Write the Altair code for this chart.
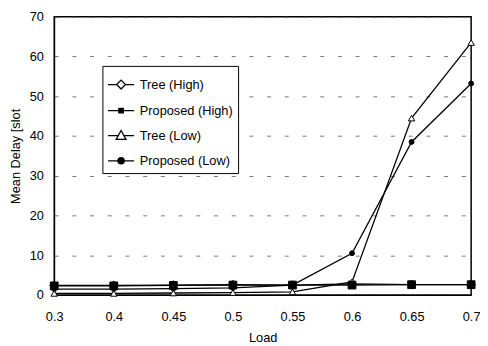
import altair as alt
import pandas as pd

loads = ["0.3", "0.4", "0.45", "0.5", "0.55", "0.6", "0.65", "0.7"]
series = ["Tree (High)", "Proposed (High)", "Tree (Low)", "Proposed (Low)"]
tree_high = [2.4, 2.4, 2.5, 2.6, 2.5, 2.8, 2.6, 2.6]
proposed_high = [2.3, 2.3, 2.4, 2.5, 2.5, 2.5, 2.6, 2.6]
tree_low = [0.4, 0.4, 0.5, 0.6, 0.8, 3.3, 44.5, 63.5]
proposed_low = [1.5, 1.5, 1.6, 1.8, 2.5, 10.5, 38.5, 53.2]

values = {
    "Tree (High)": tree_high,
    "Proposed (High)": proposed_high,
    "Tree (Low)": tree_low,
    "Proposed (Low)": proposed_low,
}
draw_order = ["Tree (Low)", "Proposed (Low)", "Tree (High)", "Proposed (High)"]
rows = []
for s in draw_order:
    for l, v in zip(loads, values[s]):
        rows.append({"load": l, "delay": v, "series": s, "key": s})
df = pd.DataFrame(rows)

shapes = ["diamond", "square", "triangle-up", "circle"]
fills = ["white", "black", "white", "black"]
strokes = ["black", "black", "black", "black"]
sizes = [81, 25, 100, 49]

legend_paths = [
    "M-1,0H-0.34M0.34,0H1M0,-0.34L0.34,0L0,0.34L-0.34,0Z",
    "M-1,0H1M-0.17,-0.17H0.17V0.17H-0.17Z",
    "M-1,0H-0.24M0.24,0H1M0,-0.4L0.38,0.28L-0.38,0.28Z",
    "M-1,0H1M0.24,0A0.24,0.24,0,1,1,-0.24,0A0.24,0.24,0,1,1,0.24,0Z",
]

x = alt.X("load:N", sort=loads, title="Load",
          scale=alt.Scale(type="point", padding=0),
          axis=alt.Axis(labelAngle=0, ticks=False, labelPadding=16,
                        titlePadding=8, gridDash=[4, 14]))
y = alt.Y("delay:Q", title="Mean Delay [slot",
          scale=alt.Scale(domain=[0, 70], nice=False),
          axis=alt.Axis(values=list(range(0, 71, 10)), ticks=False,
                        labelPadding=11, titlePadding=7, gridDash=[4, 14]))

lines = alt.Chart(df).mark_line(color="black", strokeWidth=1.3).encode(
    x=x, y=y, detail="series:N")

points = alt.Chart(df).mark_point(filled=True, stroke="black", strokeWidth=1, opacity=1).encode(
    x=x, y=y,
    shape=alt.Shape("series:N", scale=alt.Scale(domain=series, range=shapes), legend=None),
    fill=alt.Fill("series:N", scale=alt.Scale(domain=series, range=fills), legend=None),
    size=alt.Size("series:N", scale=alt.Scale(domain=series, range=sizes), legend=None),
)

leg = alt.Legend(
    title=None, orient="none", legendX=49, legendY=50,
    strokeColor="black", fillColor="white", padding=5,
    symbolSize=700, symbolStrokeWidth=1.3,
    symbolStrokeColor="black", symbolOpacity=1, labelOffset=5,
    rowPadding=4.5, labelFontSize=13,
    labelFont="Liberation Sans", labelColor="black",
)

legend_layer = alt.Chart(df).transform_filter("false").mark_point(
    filled=False, strokeWidth=1.3, opacity=1, size=700
).encode(
    x=x, y=y,
    shape=alt.Shape("key:N", scale=alt.Scale(domain=series, range=legend_paths), legend=leg),
    fill=alt.Fill("key:N", scale=alt.Scale(domain=series, range=fills), legend=leg),
    stroke=alt.Stroke("key:N", scale=alt.Scale(domain=series, range=strokes), legend=leg),
)

chart = alt.layer(lines, points, legend_layer).resolve_scale(
    shape="independent", fill="independent", size="independent", stroke="independent"
).resolve_legend(shape="independent", fill="independent", stroke="independent").properties(
    width=424, height=283,
    autosize=alt.AutoSizeParams(type="none"),
    padding={"left": 47, "top": 6, "right": 9, "bottom": 49},
).configure_view(stroke="black", strokeWidth=1.5).configure_axis(
    labelFont="Liberation Sans", labelFontSize=13, labelColor="black",
    titleFont="Liberation Sans", titleFontSize=13, titleFontWeight="normal",
    titleColor="black", domainColor="black", domainWidth=1,
    gridColor="#555", gridWidth=0.8,
)

chart.save("out.html", embed_options={"renderer": "svg", "actions": False})
